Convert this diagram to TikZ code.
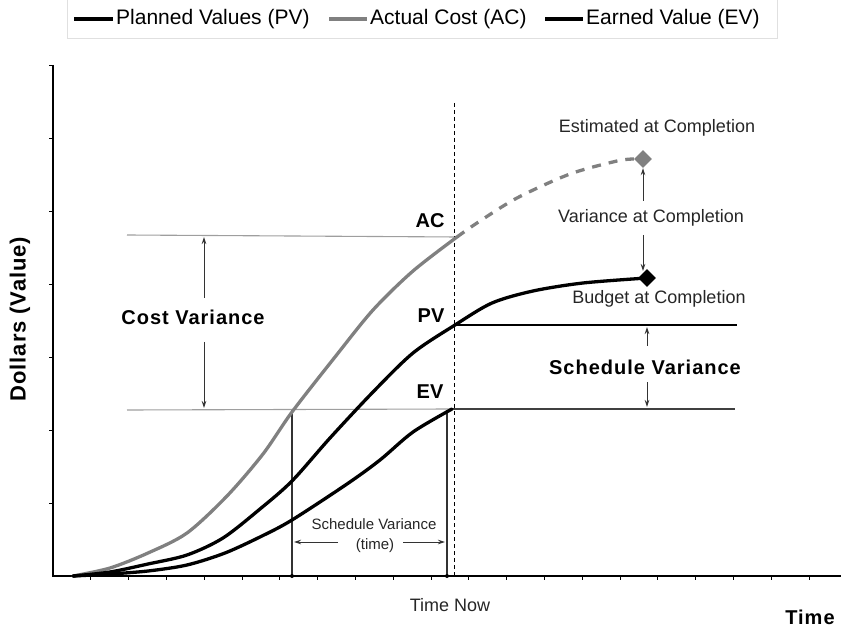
\documentclass[tikz,border=0pt]{standalone}
\usepackage{fontspec}
\setmainfont{Liberation Sans}
\usetikzlibrary{arrows.meta, positioning, shapes.geometric, calc}
\definecolor{acgray}{gray}{0.50}
\definecolor{refgray}{gray}{0.62}
\tikzset{
    curve/.style={line width=3.3pt, line join=round, line cap=round},
    guide/.style={line width=1.1pt},
    varrow/.style={-{Stealth[length=7pt, width=4.5pt]}, line width=0.9pt, black!80},
    txt/.style={inner sep=0pt, font=\fontsize{18}{20}\selectfont, text=black!85},
    smalltxt/.style={inner sep=0pt, font=\fontsize{15}{17}\selectfont, text=black!85},
    boldtxt/.style={inner sep=0pt, font=\bfseries\fontsize{20}{22}\selectfont\addfontfeature{LetterSpace=5}},
    curvetxt/.style={inner sep=0pt, font=\bfseries\fontsize{20}{22}\selectfont},
    keytxt/.style={inner sep=0pt, anchor=west, font=\fontsize{21}{23}\selectfont},
    markdia/.style={diamond, inner sep=0pt, minimum width=18pt, minimum height=18pt},
}

\begin{document}
\begin{tikzpicture}[x=1pt, y=-1pt]
    \useasboundingbox (0,0) rectangle (841,628);

    % legend
    \draw[black!12, line width=1pt] (67,0) -- (67,39) -- (777,39) -- (777,0);
    \draw[curve, line cap=butt] (74,19) -- (113,19);
    \node[keytxt] (pvkey) at (116,19) {Planned Values (PV)};
    \draw[curve, line cap=butt, acgray] (329,19) -- (367,19);
    \node[keytxt] (ackey) at (370,19) {Actual Cost (AC)};
    \draw[curve, line cap=butt] (545,19) -- (583,19);
    \node[keytxt] (evkey) at (586,19) {Earned Value (EV)};

    % axes
    \coordinate (origin) at (53,576);
    \coordinate (ytop) at (53,65);
    \coordinate (xend) at (841,576);
    \draw[line width=1.3pt] (ytop) -- (origin) -- (xend);
    \foreach \k in {1,...,7}
        \draw[line width=0.8pt] (49,576-73*\k) -- (53,576-73*\k);
    \foreach \k in {1,...,20}
        \draw[line width=0.8pt] (53+37.8*\k,576) -- (53+37.8*\k,580);

    \node[boldtxt, font=\bfseries\fontsize{22}{24}\selectfont\addfontfeature{LetterSpace=4}, rotate=90] (ylab) at (20,319) {Dollars (Value)};
    \node[boldtxt] (xlab) at (810,617) {Time};

    % key points
    \coordinate (acnow) at (457,237);
    \coordinate (pvnow) at (455,325);
    \coordinate (evnow) at (452,409);
    \coordinate (accross) at (292,410);
    \node[markdia, fill=acgray] (eac) at (643,159) {};
    \node[markdia, fill=black] (bac) at (647,278) {};

    % reference lines
    \draw[guide, refgray] (127,235) -- (acnow);
    \draw[guide, refgray] (127,410) -- (evnow);
    \draw[guide, black!75] (evnow) -- (735,409);
    \draw[guide, black] (pvnow) -- (737,325);
    \draw[guide, black!80] (accross) -- (accross |- origin);
    \draw[guide, black!80] (447,410) -- (447,576);
    \fill (accross |- origin) circle (2pt);
    \fill (447,576) circle (2pt);
    \draw[line width=0.9pt, dash pattern=on 4pt off 3pt] (454,103) -- (454,576);
    \node[txt] (now) at (450,605) {Time Now};

    % curves
    \draw[curve, acgray] plot[smooth, tension=0.5] coordinates {
        (73,576) (110,568) (148,553) (187,533) (227,496) (263,454)
        (292,412) (335,357) (373,310) (413,271) (acnow)};
    \draw[curve, acgray, line cap=butt, dash pattern=on 9pt off 8pt]
        plot[smooth, tension=0.5] coordinates {
        (acnow) (477,223) (517,198) (570,174) (617,161) (eac.west)};
    \draw[curve] plot[smooth, tension=0.5] coordinates {
        (73,576) (110,572) (148,564) (187,555) (223,538) (260,509)
        (292,481) (330,438) (373,392) (413,353) (pvnow) (492,303)
        (533,291) (583,283) (bac)};
    \draw[curve] plot[smooth, tension=0.5] coordinates {
        (73,576) (110,574) (148,571) (187,565) (225,553) (262,536)
        (292,520) (347,484) (380,460) (413,432) (evnow)};

    % curve labels
    \node[curvetxt] (aclab) at (430,221) {AC};
    \node[curvetxt] (pvlab) at (431,316) {PV};
    \node[curvetxt] (evlab) at (430,392) {EV};

    % cost variance
    \node[boldtxt] (cv) at (193,317) {Cost Variance};
    \draw[varrow] (204,298) -- (204,237);
    \draw[varrow] (204,342) -- (204,408);

    % schedule variance in time
    \node[smalltxt] (svtime) at (374,524) {Schedule Variance};
    \node[smalltxt] (svparen) at (375,546) {(time)};
    \draw[varrow] (338,542) -- (294,542);
    \draw[varrow] (403,542) -- (445,542);

    % completion
    \node[txt] (eaclab) at (657,128) {Estimated at Completion};
    \node[txt] (vaclab) at (651,218) {Variance at Completion};
    \node[txt] (baclab) at (659,299) {Budget at Completion};
    \draw[varrow] (643,201) -- (eac.south);
    \draw[varrow] (643,235) -- (643,271);

    % schedule variance in value
    \node[boldtxt] (svlab) at (645,367) {Schedule Variance};
    \draw[varrow] (647,346) -- (647,327);
    \draw[varrow] (647,382) -- (647,407);
\end{tikzpicture}
\end{document}
